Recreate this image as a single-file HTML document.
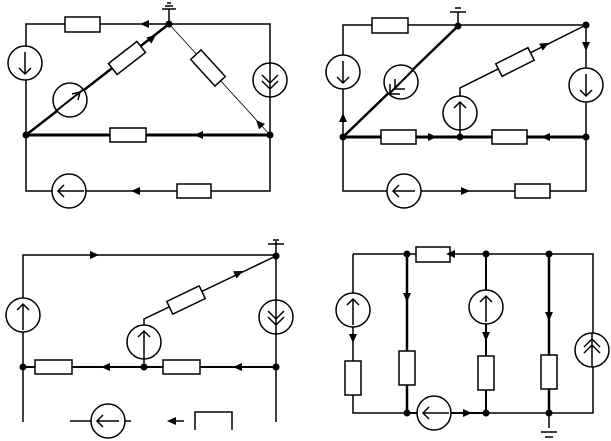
<!DOCTYPE html>
<html><head><meta charset="utf-8"><style>html,body{margin:0;padding:0;background:#fff}svg{display:block}</style></head>
<body>
<svg width="611" height="441" viewBox="0 0 611 441" xmlns="http://www.w3.org/2000/svg">
<defs>
<polygon id="ar" points="0,0 -9,-4 -9,4" fill="#000"/>
</defs>
<g stroke="#000" fill="none" stroke-width="1.5">
<!-- Q1 -->
<polyline points="26,135 26,24 270,24 270,135"/>
<polyline points="26,135 26,191 270,191 270,135"/>
<line x1="26" y1="135" x2="270" y2="135" stroke-width="3"/>
<line x1="26" y1="135" x2="169" y2="24" stroke-width="2.5"/>
<line x1="169" y1="24" x2="270" y2="135" stroke-width="0.8"/>
<rect x="65" y="17" width="35" height="15" fill="#fff"/>
<rect x="110" y="128" width="36" height="14" fill="#fff"/>
<rect x="177" y="184" width="34" height="14" fill="#fff"/>
<rect x="-18" y="-7" width="36" height="14" fill="#fff" transform="translate(127,58) rotate(-37.8)"/>
<rect x="-18" y="-7" width="36" height="14" fill="#fff" transform="translate(208,68) rotate(47.7)"/>
<circle cx="25" cy="63" r="17" fill="#fff"/>
<path d="M25,52 V74 M19,68 L25,74 L31,68"/>
<circle cx="70" cy="100" r="17" fill="#fff"/>
<line x1="56" y1="111" x2="84" y2="89" stroke-width="2"/>
<path d="M72,94 L80,92 L78,100"/>
<circle cx="270" cy="80" r="17" fill="#fff"/>
<path d="M270,63 V97 M262,75 L270,83 L278,75 M262,81 L270,89 L278,81"/>
<circle cx="69" cy="191" r="17" fill="#fff"/>
<path d="M58,191 H84 M64,185 L58,191 L64,197"/>
<line x1="162" y1="0" x2="176" y2="0" transform="translate(0,9)"/>
<line x1="169" y1="9" x2="169" y2="24"/><line x1="165" y1="6" x2="173" y2="6"/><line x1="167" y1="3" x2="171" y2="3"/>
<!-- Q2 -->
<polyline points="343,137 343,25 586,25 586,137"/>
<polyline points="343,137 343,191 586,191 586,137"/>
<line x1="343" y1="137" x2="586" y2="137" stroke-width="3"/>
<line x1="343" y1="137" x2="458" y2="26" stroke-width="2.5"/>
<polyline points="586,25 460,88 460,137"/>
<rect x="372" y="18" width="36" height="15" fill="#fff"/>
<rect x="381" y="130" width="35" height="14" fill="#fff"/>
<rect x="492" y="130" width="35" height="14" fill="#fff"/>
<rect x="515" y="184" width="35" height="14" fill="#fff"/>
<rect x="-18" y="-7" width="36" height="14" fill="#fff" transform="translate(515,62) rotate(-26.6)"/>
<circle cx="343" cy="72" r="17" fill="#fff"/>
<path d="M343,61 V83 M337,77 L343,83 L349,77"/>
<circle cx="401" cy="82" r="17" fill="#fff"/>
<line x1="389" y1="94" x2="413" y2="70" stroke-width="2"/>
<path d="M390,84 L390,94 L400,94 M395,79 L395,89 L405,89"/>
<circle cx="460" cy="113" r="17" fill="#fff"/>
<path d="M460,102 V130 M454,108 L460,102 L466,108"/>
<circle cx="586" cy="85" r="17" fill="#fff"/>
<path d="M586,74 V96 M580,90 L586,96 L592,90"/>
<circle cx="404" cy="191" r="17" fill="#fff"/>
<path d="M393,191 H415 M399,185 L393,191 L399,197"/>
<line x1="458" y1="12" x2="458" y2="26"/><line x1="450" y1="12" x2="466" y2="12"/><line x1="455" y1="8" x2="461" y2="8"/>
<!-- Q3 -->
<polyline points="23,422 23,255 276,255 276,422"/>
<line x1="23" y1="367" x2="276" y2="367" stroke-width="2"/>
<polyline points="276,256 144,319 144,367"/>
<rect x="35" y="360" width="37" height="14" fill="#fff"/>
<rect x="163" y="360" width="37" height="14" fill="#fff"/>
<rect x="-18" y="-7" width="36" height="14" fill="#fff" transform="translate(186,300) rotate(-25.5)"/>
<circle cx="23" cy="315" r="17" fill="#fff"/>
<path d="M23,304 V330 M17,310 L23,304 L29,310"/>
<circle cx="276" cy="317" r="17" fill="#fff"/>
<path d="M276,300 V334 M268,311 L276,319 L284,311 M268,317 L276,325 L284,317"/>
<circle cx="144" cy="342" r="17" fill="#fff"/>
<path d="M144,331 V359 M138,337 L144,331 L150,337"/>
<line x1="70" y1="421" x2="131" y2="421"/>
<circle cx="108" cy="421" r="17" fill="#fff"/>
<path d="M97,421 H119 M103,415 L97,421 L103,427"/>
<line x1="170" y1="421" x2="184" y2="421"/>
<polyline points="195,430 195,412 232,412 232,430"/>
<line x1="276" y1="241" x2="276" y2="256"/><line x1="268" y1="244" x2="284" y2="244"/><line x1="273" y1="240" x2="279" y2="240"/>
<!-- Q4 -->
<polyline points="353,254 593,254 593,413 353,413 353,254"/>
<line x1="407" y1="254" x2="407" y2="413" stroke-width="2.5"/>
<line x1="486" y1="254" x2="486" y2="413" stroke-width="2"/>
<line x1="549" y1="254" x2="549" y2="413" stroke-width="2.5"/>
<line x1="407" y1="413" x2="486" y2="413" stroke-width="2"/>
<rect x="416" y="247" width="34" height="15" fill="#fff"/>
<rect x="345" y="361" width="16" height="34" fill="#fff"/>
<rect x="399" y="351" width="16" height="34" fill="#fff"/>
<rect x="478" y="356" width="16" height="34" fill="#fff"/>
<rect x="541" y="355" width="16" height="34" fill="#fff"/>
<circle cx="353" cy="310" r="17" fill="#fff"/>
<path d="M353,299 V325 M347,305 L353,299 L359,305"/>
<circle cx="486" cy="307" r="17" fill="#fff"/>
<path d="M486,296 V322 M480,302 L486,296 L492,302"/>
<circle cx="592" cy="350" r="17" fill="#fff"/>
<path d="M592,333 V367 M584,347 L592,339 L600,347 M584,353 L592,345 L600,353"/>
<circle cx="434" cy="413" r="17" fill="#fff"/>
<path d="M423,413 H449 M429,407 L423,413 L429,419"/>
<line x1="549" y1="413" x2="549" y2="428"/><line x1="541" y1="432" x2="557" y2="432"/><line x1="545" y1="437" x2="553" y2="437"/>
</g>
<g fill="#000">
<circle cx="169" cy="24" r="3.5"/><circle cx="26" cy="135" r="3.5"/><circle cx="270" cy="135" r="3.5"/>
<circle cx="458" cy="26" r="3.5"/><circle cx="586" cy="25" r="3.5"/><circle cx="343" cy="137" r="3.5"/><circle cx="460" cy="137" r="3.5"/><circle cx="586" cy="137" r="3.5"/>
<circle cx="276" cy="256" r="3.5"/><circle cx="23" cy="367" r="3.5"/><circle cx="144" cy="367" r="3.5"/><circle cx="276" cy="367" r="3.5"/>
<circle cx="407" cy="254" r="3.5"/><circle cx="486" cy="254" r="3.5"/><circle cx="549" cy="254" r="3.5"/><circle cx="407" cy="413" r="3.5"/><circle cx="486" cy="413" r="3.5"/><circle cx="549" cy="413" r="3.5"/>
<use href="#ar" transform="translate(140,24) rotate(180)"/>
<use href="#ar" transform="translate(194,135) rotate(180)"/>
<use href="#ar" transform="translate(131,191) rotate(180)"/>
<use href="#ar" transform="translate(156,35) rotate(-37.8)"/>
<use href="#ar" transform="translate(256,120) rotate(-132.3)"/>
<use href="#ar" transform="translate(343,113) rotate(-90)"/>
<use href="#ar" transform="translate(437,137)"/>
<use href="#ar" transform="translate(541,137) rotate(180)"/>
<use href="#ar" transform="translate(586,51) rotate(90)"/>
<use href="#ar" transform="translate(470,191)"/>
<use href="#ar" transform="translate(549,43) rotate(-26.6)"/>
<use href="#ar" transform="translate(99,255)"/>
<use href="#ar" transform="translate(101,367) rotate(180)"/>
<use href="#ar" transform="translate(233,367) rotate(180)"/>
<use href="#ar" transform="translate(243,271) rotate(-25.5)"/>
<use href="#ar" transform="translate(167,421) rotate(180)"/>
<use href="#ar" transform="translate(446,254) rotate(180)"/>
<use href="#ar" transform="translate(407,302) rotate(90)"/>
<use href="#ar" transform="translate(353,343) rotate(90)"/>
<use href="#ar" transform="translate(486,341) rotate(90)"/>
<use href="#ar" transform="translate(549,321) rotate(90)"/>
<use href="#ar" transform="translate(472,413)"/>
</g>
</svg>
</body></html>
